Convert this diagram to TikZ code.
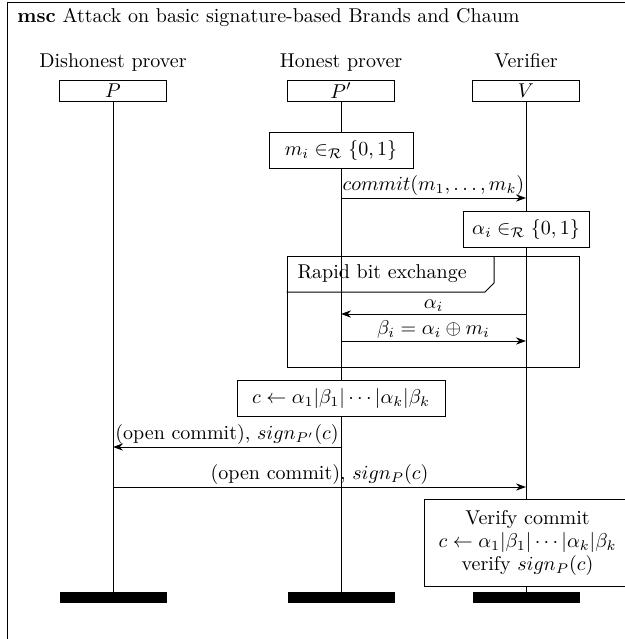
\documentclass[tikz,border=0pt]{standalone}
\usetikzlibrary{arrows.meta}
\begin{document}
\begin{tikzpicture}[x=0.5pt,y=-0.5pt,line width=0.5pt,
  insthead/.style={draw, fill=white, minimum width=53.5pt, minimum height=10.5pt, inner sep=0pt},
  instname/.style={anchor=base, inner sep=0pt},
  endbar/.style={fill=black, minimum width=53.5pt, minimum height=5.5pt, inner sep=0pt},
  actbox/.style={draw, fill=white, inner sep=0pt, minimum height=18pt},
  msg/.style={-{Stealth[length=5pt,width=3.6pt,inset=1.6pt]}},
  msglabel/.style={above, inner sep=1.2pt}
]
\useasboundingbox (0,0) rectangle (625,639);
\clip (0,0) rectangle (625,639);

% enclosing msc frame and its title
\draw (7,2) rectangle (660,680);
\node[anchor=base west, inner sep=0pt] (title) at (17,22)
  {\textbf{msc} Attack on basic signature-based Brands and Chaum};

% instance names and heads
\node[instname] (nP)  at (113,67) {Dishonest prover};
\node[instname] (nPp) at (341,67) {Honest prover};
\node[instname] (nV)  at (526,67) {Verifier};
\node[insthead] (hP)  at (113,90.5) {$P$};
\node[insthead] (hPp) at (341,90.5) {$P'$};
\node[insthead] (hV)  at (526,90.5) {$V$};

% instance ends
\node[endbar] (eP)  at (113,597.5) {};
\node[endbar] (ePp) at (341,597.5) {};
\node[endbar] (eV)  at (526,597.5) {};

% lifelines
\draw (hP.south)  -- (eP.north);
\draw (hPp.south) -- (ePp.north);
\draw (hV.south)  -- (eV.north);

% inline expression: rapid bit exchange
\node[draw, minimum width=146pt, minimum height=55.5pt, inner sep=0pt] (rbe) at (433,311.5) {};
\draw (rbe.north west |- 0,292) coordinate (tabA) -- (485,292) coordinate (tabB)
  -- (494,283) coordinate (tabC) -- (494,256) coordinate (tabD);
\node[anchor=base west, inner sep=0pt] (rbelabel) at (297,278) {Rapid bit exchange};

% local actions
\node[actbox, minimum width=72pt] (act1) at (341,150) {$m_i \in_{\mathcal{R}} \{0,1\}$};
\node[actbox, minimum width=63pt] (act2) at (526,229) {$\alpha_i \in_{\mathcal{R}} \{0,1\}$};
\node[actbox, minimum width=104pt] (act3) at (341,398) {$c \leftarrow \alpha_1|\beta_1|\cdots|\alpha_k|\beta_k$};
\node[actbox, minimum width=103pt, minimum height=43.5pt, align=center] (act4) at (527.5,542.5)
  {Verify commit\\[-0.5pt] $c \leftarrow \alpha_1|\beta_1|\cdots|\alpha_k|\beta_k$\\[-0.5pt] verify $sign_P(c)$};

% message end points on the lifelines
\coordinate (m1a) at (hPp |- 0,198);
\coordinate (m1b) at (hV |- 0,198);
\coordinate (m2a) at (hV |- 0,314);
\coordinate (m2b) at (hPp |- 0,314);
\coordinate (m3a) at (hPp |- 0,341);
\coordinate (m3b) at (hV |- 0,341);
\coordinate (m4a) at (hPp |- 0,447);
\coordinate (m4b) at (hP |- 0,447);
\coordinate (m5a) at (hP |- 0,487);
\coordinate (m5b) at (hV |- 0,487);

% messages
\draw[msg] (m1a) -- node[msglabel] {$commit(m_1,\ldots,m_k)$} (m1b);
\draw[msg] (m2a) -- node[msglabel] {$\alpha_i$} (m2b);
\draw[msg] (m3a) -- node[msglabel] {$\beta_i = \alpha_i \oplus m_i$} (m3b);
\draw[msg] (m4a) -- node[msglabel] {(open commit), $sign_{P'}(c)$} (m4b);
\draw[msg] (m5a) -- node[msglabel] {(open commit), $sign_P(c)$} (m5b);
\end{tikzpicture}
\end{document}
